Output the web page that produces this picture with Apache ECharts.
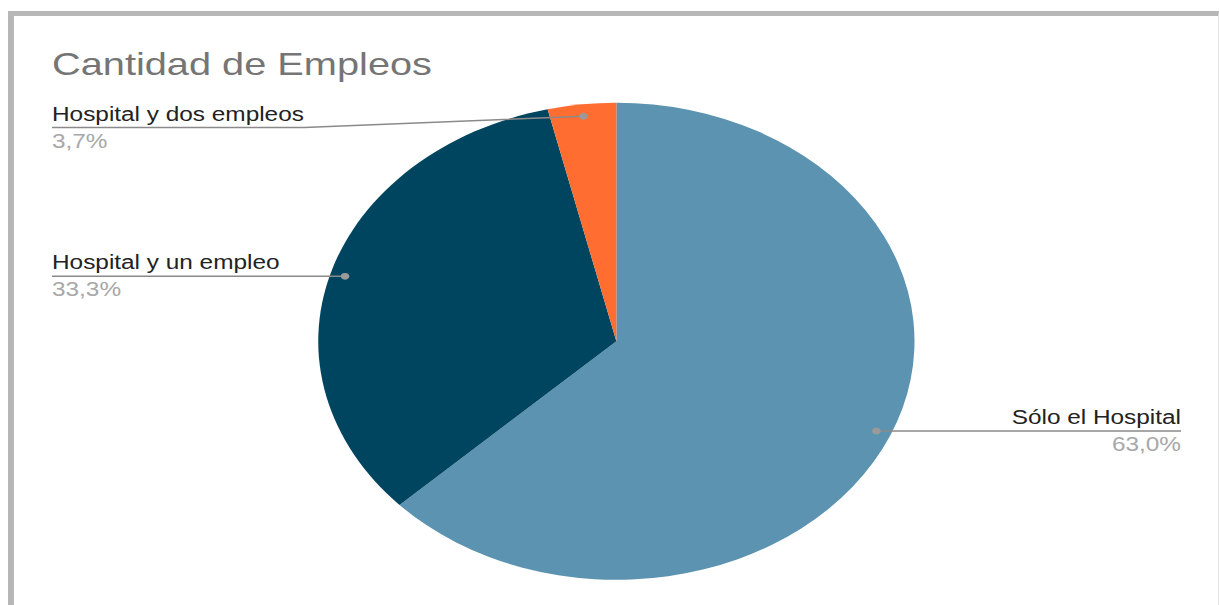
<!DOCTYPE html>
<html>
<head>
<meta charset="utf-8">
<title>Cantidad de Empleos</title>
<script src="https://cdn.jsdelivr.net/npm/echarts@6/dist/echarts.min.js"></script>
<style>
  html, body { margin: 0; padding: 0; background: #fff; width: 1219px; height: 605px; overflow: hidden; }
  /* sheet-style frame around the chart */
  #frame {
    position: absolute; left: 8px; top: 11px; width: 1204px; height: 600px;
    border-top: 5px solid #b7b7b7; border-left: 6px solid #b7b7b7; border-right: 1px solid #e4e4e4;
  }
  /* the chart is laid out narrower and widened horizontally */
  #chart {
    position: absolute; left: 0; top: 0; width: 975px; height: 605px;
    transform: scaleX(1.25); transform-origin: 0 0;
  }
</style>
</head>
<body>
<div id="frame"></div>
<div id="chart"></div>
<script>
// ---- data ----
const titleText = 'Cantidad de Empleos';
const categories = ['Sólo el Hospital', 'Hospital y un empleo', 'Hospital y dos empleos'];
const counts = [17, 9, 1];
const sliceColors = ['#5b93b0', '#00455f', '#ff6d31'];

// ---- layout (chart units, before horizontal stretch) ----
const CX = 493.1, CY = 341.3, R = 238.5;
const DOT_FRACTION = 0.95;          // where the leader dot sits along the slice's mid ray
const LEFT_EDGE = 41.6, RIGHT_EDGE = 944.8;
const LABEL_MIN_Y = 127.5;          // keep labels below the title
const FONT = 'Liberation Sans, Arial, sans-serif';

const total = counts.reduce((a, b) => a + b, 0);
const pct = v => (v / total * 100).toFixed(1).replace('.', ',') + '%';

// leader-dot anchors at each slice's middle angle (clockwise from 12 o'clock)
let acc = 0;
const anchors = counts.map(v => {
  const mid = (acc + v / 2) / total * 2 * Math.PI;
  acc += v;
  return [CX + DOT_FRACTION * R * Math.sin(mid), CY - DOT_FRACTION * R * Math.cos(mid)];
});

const pieData = categories.map((name, i) => ({ name: name, value: counts[i] }));

const chart = echarts.init(document.getElementById('chart'), null, { renderer: 'svg' });

chart.setOption({
  animation: false,
  backgroundColor: 'transparent',
  title: {
    text: titleText,
    left: LEFT_EDGE,
    top: 48,
    padding: 0,
    textStyle: { fontFamily: FONT, fontSize: 31.8, fontWeight: 'normal', color: '#757575' }
  },
  graphic: anchors.map(([x, y]) => ({
    type: 'circle',
    z: 100,
    shape: { cx: x, cy: y, r: 3.4 },
    style: { fill: '#9a9a9a' }
  })),
  series: [
    // the slices
    {
      type: 'pie',
      z: 2,
      center: [CX, CY],
      radius: R,
      startAngle: 90,
      clockwise: true,
      itemStyle: { borderWidth: 0 },
      emphasis: { disabled: true },
      label: { show: false },
      labelLine: { show: false },
      data: pieData.map((d, i) => ({ ...d, itemStyle: { color: sliceColors[i] } }))
    },
    // labels and leader lines, layered above the slices
    {
      type: 'pie',
      z: 5,
      silent: true,
      center: [CX, CY],
      radius: R,
      startAngle: 90,
      clockwise: true,
      avoidLabelOverlap: false,
      itemStyle: { color: 'rgba(0,0,0,0)', borderWidth: 0 },
      emphasis: { disabled: true },
      data: pieData,
      label: {
        show: true,
        formatter: p => '{n|' + p.name + '}\n{p|' + pct(p.value) + '}',
        rich: {
          n: { fontFamily: FONT, fontSize: 19.5, color: '#222222', lineHeight: 27 },
          p: { fontFamily: FONT, fontSize: 19.5, color: '#a8a8a8', lineHeight: 27 }
        }
      },
      labelLine: {
        show: true,
        lineStyle: { color: '#8a8a8a', width: 1.6 }
      },
      labelLayout: function (p) {
        const [ax, ay] = anchors[p.dataIndex];
        const isLeft = ax < CX;
        const y = Math.max(ay, LABEL_MIN_Y);
        const w = p.labelRect.width;
        const x0 = isLeft ? LEFT_EDGE : RIGHT_EDGE - w;
        const x1 = isLeft ? LEFT_EDGE + w : RIGHT_EDGE;
        return {
          x: isLeft ? LEFT_EDGE : RIGHT_EDGE,
          y: y,
          align: isLeft ? 'left' : 'right',
          verticalAlign: 'middle',
          labelLinePoints: isLeft
            ? [[ax, ay], [x1, y], [x0, y]]
            : [[ax, ay], [x0, y], [x1, y]]
        };
      }
    }
  ]
});
</script>
</body>
</html>
